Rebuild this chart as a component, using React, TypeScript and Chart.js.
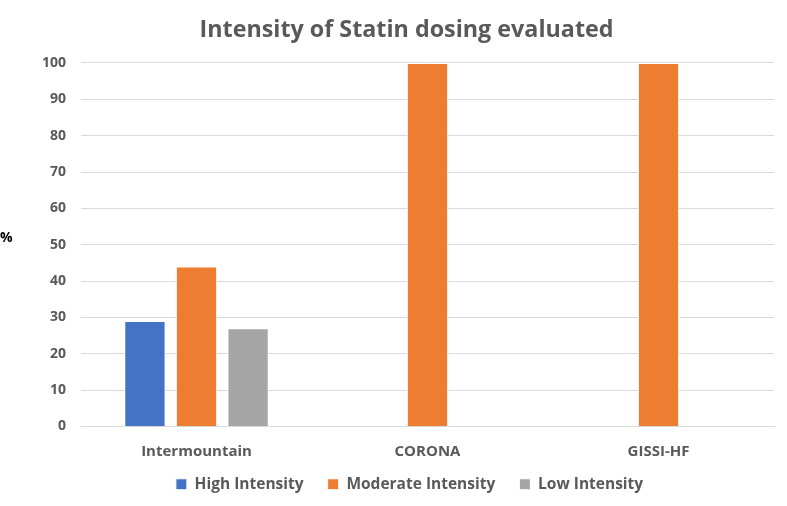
import React, { useEffect, useRef } from "react";
import { Chart, registerables } from "chart.js";

Chart.register(...registerables);

const categories = ["Intermountain", "CORONA", "GISSI-HF"];
const highIntensity = [29, 0, 0];
const moderateIntensity = [44, 100, 100];
const lowIntensity = [27, 0, 0];
const yTicks = [0, 10, 20, 30, 40, 50, 60, 70, 80, 90, 100];

const FONT = "'Open Sans', 'Noto Sans', sans-serif";

const percentLabel = {
  id: "percentLabel",
  afterLayout(chart: any) {
    if (chart.legend) {
      chart.legend.left += 9;
      chart.legend.right += 9;
    }
    if (chart.titleBlock) {
      chart.titleBlock.left += 6;
      chart.titleBlock.right += 6;
    }
  },
  afterDraw(chart: any) {
    const { ctx, chartArea } = chart;
    ctx.save();
    ctx.font = `bold 14px ${FONT}`;
    ctx.fillStyle = "#000000";
    ctx.textAlign = "left";
    ctx.textBaseline = "middle";
    ctx.fillText("%", 0, (chartArea.top + chartArea.bottom) / 2 - 7);
    ctx.restore();
  },
};

export default function App() {
  const ref = useRef<HTMLCanvasElement | null>(null);
  useEffect(() => {
    if (!ref.current) return;
    const chart = new Chart(ref.current, {
      type: "bar",
      data: {
        labels: categories,
        datasets: [
          { label: "High Intensity", data: highIntensity, backgroundColor: "#4472C4", borderColor: "#ffffff", borderWidth: 1 },
          { label: "Moderate Intensity", data: moderateIntensity, backgroundColor: "#ED7D31", borderColor: "#ffffff", borderWidth: 1 },
          { label: "Low Intensity", data: lowIntensity, backgroundColor: "#A5A5A5", borderColor: "#ffffff", borderWidth: 1 },
        ],
      },
      options: {
        animation: false,
        responsive: true,
        maintainAspectRatio: false,
        layout: { padding: { left: 27, right: 13, top: 0, bottom: 4 } },
        datasets: { bar: { barPercentage: 0.8, categoryPercentage: 0.67 } },
        plugins: {
          title: {
            display: true,
            text: "Intensity of Statin dosing evaluated",
            color: "#595959",
            font: { family: FONT, size: 23.3, weight: "bold" },
            padding: { top: 16, bottom: 19 },
          },
          legend: {
            position: "bottom",
            labels: {
              color: "#595959",
              font: { family: FONT, size: 15.5, weight: "bold" },
              boxWidth: 11,
              boxHeight: 11,
              padding: 8,
              generateLabels: (chart: any) => {
                const items = Chart.defaults.plugins.legend.labels.generateLabels(chart);
                return items.map((it: any, i: number) =>
                  i < items.length - 1 ? { ...it, text: it.text + "    " } : it
                );
              },
            },
          },
          tooltip: { enabled: false },
        },
        scales: {
          x: {
            grid: { display: false },
            border: { color: "#d9d9d9" },
            ticks: { color: "#595959", font: { family: FONT, size: 15, weight: "bold" }, padding: 8 },
          },
          y: {
            min: 0,
            max: 100,
            afterBuildTicks: (axis: any) => {
              axis.ticks = yTicks.map((v) => ({ value: v }));
            },
            grid: { color: "#d9d9d9", drawTicks: false },
            border: { display: false },
            ticks: { color: "#595959", font: { family: FONT, size: 14, weight: "bold" }, padding: 15 },
          },
        },
      },
      plugins: [percentLabel],
    });
    return () => chart.destroy();
  }, []);
  return (
    <div style={{ position: "fixed", left: 0, top: 0, width: 787, height: 506, background: "#fff" }}>
      <canvas ref={ref} />
    </div>
  );
}
